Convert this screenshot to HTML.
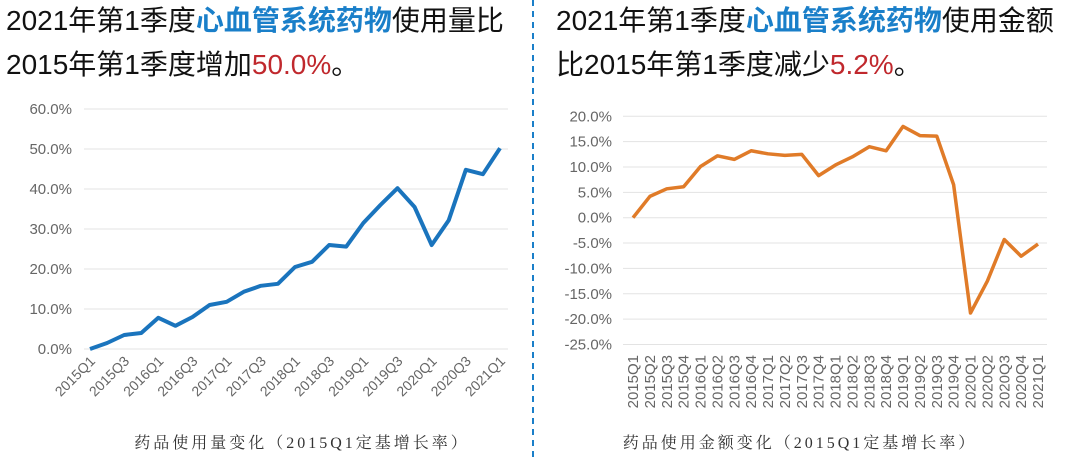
<!DOCTYPE html>
<html><head><meta charset="utf-8"><style>
body{margin:0;width:1080px;height:462px;background:#fff;overflow:hidden;}
svg{display:block}
.t{font-family:"Liberation Sans","Noto Sans CJK SC",sans-serif;font-size:28px;fill:#111}
.b{fill:#1a7fc9;font-weight:bold}
.r{fill:#c0282d}
.ax{font-family:"Liberation Sans",sans-serif;font-size:15px;fill:#666}
.xl{font-family:"Liberation Sans",sans-serif;font-size:14px;fill:#666}
.xr{font-family:"Liberation Sans",sans-serif;font-size:15px;fill:#666}
.cap{font-family:"Liberation Serif","Noto Serif CJK SC",serif;font-size:16px;fill:#333;letter-spacing:3px}
</style></head><body>
<svg width="1080" height="462" viewBox="0 0 1080 462">
<text class="t" x="6" y="30">2021年第1季度<tspan class="b">心血管系统药物</tspan>使用量比</text>
<text class="t" x="6" y="74">2015年第1季度增加<tspan class="r">50.0%</tspan>。</text>
<text class="t" x="556" y="30">2021年第1季度<tspan class="b">心血管系统药物</tspan>使用金额</text>
<text class="t" x="556" y="74">比2015年第1季度减少<tspan class="r">5.2%</tspan>。</text>
<line x1="533" y1="0" x2="533" y2="462" stroke="#1a7fc9" stroke-width="2" stroke-dasharray="6,5"/>
<g id="L"></g><g id="R"></g>
<text class="cap" x="302" y="448" text-anchor="middle">药品使用量变化（2015Q1定基增长率）</text>
<text class="cap" x="800" y="448" text-anchor="middle">药品使用金额变化（2015Q1定基增长率）</text>
</svg>
<script>
const NS="http://www.w3.org/2000/svg";
function el(p,t,a,txt){const e=document.createElementNS(NS,t);for(const k in a)e.setAttribute(k,a[k]);if(txt!=null)e.textContent=txt;p.appendChild(e);return e;}
const q=[];for(let y=2015;y<=2021;y++)for(let i=1;i<=4;i++){if(y==2021&&i>1)break;q.push(y+"Q"+i);}
const L=document.getElementById("L");
const lv=[0,1.5,3.5,4,7.8,5.8,8,11,11.8,14.3,15.8,16.3,20.5,21.8,26,25.6,31.5,36,40.2,35.5,26,32.2,44.8,43.7,50.2];
const ly=v=>349-v*4, lx=i=>90+i*410/24;
for(let g=0;g<=60;g+=10){el(L,"line",{x1:84,x2:508,y1:ly(g),y2:ly(g),stroke:"#e3e3e3","stroke-width":1});el(L,"text",{class:"ax",x:72,y:ly(g)+5,"text-anchor":"end"},g.toFixed(1)+"%");}
el(L,"polyline",{points:lv.map((v,i)=>lx(i)+","+ly(v)).join(" "),fill:"none",stroke:"#1a74bd","stroke-width":4,"stroke-linejoin":"round"});
q.forEach((s,i)=>{if(i%2)return;el(L,"text",{class:"xl",x:0,y:0,"text-anchor":"end",transform:`translate(${lx(i)+6},${362}) rotate(-45)`},s);});
const R=document.getElementById("R");
const rv=[0,4.2,5.7,6.1,10.1,12.2,11.5,13.2,12.6,12.3,12.5,8.3,10.4,12,14,13.2,18,16.2,16.1,6.5,-18.8,-12.5,-4.3,-7.6,-5.2];
const ry=v=>217.7-v*5.07, rx=i=>633+i*405/24;
for(let g=20;g>=-25;g-=5){el(R,"line",{x1:623,x2:1047,y1:ry(g),y2:ry(g),stroke:"#e3e3e3","stroke-width":1});el(R,"text",{class:"ax",x:612,y:ry(g)+5,"text-anchor":"end"},g.toFixed(1)+"%");}
el(R,"polyline",{points:rv.map((v,i)=>rx(i)+","+ry(v)).join(" "),fill:"none",stroke:"#e07b28","stroke-width":3.5,"stroke-linejoin":"round"});
q.forEach((s,i)=>{el(R,"text",{class:"xr",x:0,y:0,"text-anchor":"end",transform:`translate(${rx(i)+5},${355}) rotate(-90)`},s);});
</script>
</body></html>
